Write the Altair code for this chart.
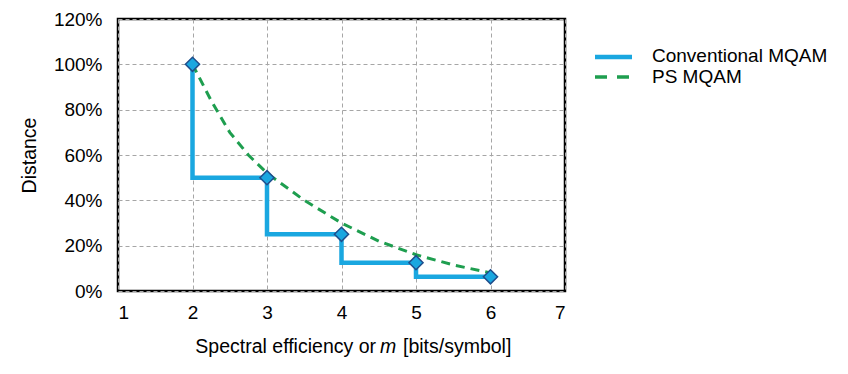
import altair as alt
import pandas as pd

# Conventional MQAM (staircase)
conv_x = [2, 2, 3, 3, 4, 4, 5, 5, 6]
conv_y = [1.00, 0.50, 0.50, 0.25, 0.25, 0.125, 0.125, 0.0625, 0.0625]
# marker points
mark_x = [2, 3, 4, 5, 6]
mark_y = [1.00, 0.50, 0.25, 0.125, 0.0625]
# PS MQAM (dashed curve)
ps_x = [2, 2.25, 2.5, 2.75, 3, 3.5, 4, 4.5, 5, 5.5, 6]
ps_y = [1.00, 0.84, 0.70, 0.60, 0.52, 0.40, 0.30, 0.22, 0.16, 0.115, 0.08]

series = ["Conventional  MQAM", "PS MQAM"]
title_parts = ["Spectral efficiency or", "m", "[bits/symbol]"]

BLUE = "#1aa7e0"
GREEN = "#1e9e4f"
FONT = "Liberation Sans"
FS = 19
TFS = 19.5

df_conv = pd.DataFrame({"m": conv_x, "d": conv_y, "o": range(len(conv_x))})
df_ps = pd.DataFrame({"m": ps_x, "d": ps_y, "o": range(len(ps_x))})
dm = pd.DataFrame({"m": mark_x, "d": mark_y})

xs = alt.Scale(domain=[1, 7], nice=False)
ys = alt.Scale(domain=[0, 1.2], nice=False)

xax = alt.Axis(values=[1, 2, 3, 4, 5, 6, 7], format="d", title=None,
               grid=True, gridDash=[4, 3], gridColor="#a6a6a6", gridWidth=1,
               ticks=False, domain=False, labelFontSize=FS, labelPadding=12,
               labelFont=FONT, labelColor="#000")
yax = alt.Axis(values=[0, 0.2, 0.4, 0.6, 0.8, 1.0, 1.2], format=".0%", title="Distance",
               grid=True, gridDash=[4, 3], gridColor="#a6a6a6", gridWidth=1,
               ticks=False, domain=False, labelFontSize=FS, labelPadding=16,
               titleFontSize=TFS, titleFontWeight="normal", titlePadding=14,
               labelFont=FONT, titleFont=FONT, labelColor="#000", titleColor="#000")

conv_line = alt.Chart(df_conv).mark_line(color=BLUE, strokeWidth=4.5, strokeCap="butt",
                                         strokeJoin="miter").encode(
    x=alt.X("m:Q", scale=xs, axis=xax),
    y=alt.Y("d:Q", scale=ys, axis=yax),
    order="o:Q",
)
ps_line = alt.Chart(df_ps).mark_line(color=GREEN, strokeWidth=3, strokeDash=[9, 6],
                                     strokeCap="butt").encode(
    x=alt.X("m:Q", scale=xs),
    y=alt.Y("d:Q", scale=ys),
    order="o:Q",
)

pts = alt.Chart(dm).mark_point(shape="diamond", filled=True, size=200, fill=BLUE,
                               stroke="#1f4e8c", strokeWidth=1.5, opacity=1).encode(
    x=alt.X("m:Q", scale=xs),
    y=alt.Y("d:Q", scale=ys),
)

# legend (drawn by hand to match the compact row spacing)
ldf = pd.DataFrame({"s": series})
lg1 = alt.Chart(ldf).transform_filter(alt.datum.s == series[0]).mark_rule(
    color=BLUE, strokeWidth=4.5, strokeCap="butt").encode(
    x=alt.value(477), x2=alt.value(514), y=alt.value(38))
lg2 = alt.Chart(ldf).transform_filter(alt.datum.s == series[1]).mark_rule(
    color=GREEN, strokeWidth=3.5, strokeDash=[12, 10], strokeCap="butt").encode(
    x=alt.value(477), x2=alt.value(514), y=alt.value(58))
lt1 = alt.Chart(ldf).transform_filter(alt.datum.s == series[0]).mark_text(
    align="left", baseline="middle", font=FONT, fontSize=FS, color="#000").encode(
    text="s:N", x=alt.value(534), y=alt.value(37))
lt2 = alt.Chart(ldf).transform_filter(alt.datum.s == series[1]).mark_text(
    align="left", baseline="middle", font=FONT, fontSize=FS, color="#000").encode(
    text="s:N", x=alt.value(534), y=alt.value(58))

# x-axis title with italic "m"
tdf = pd.DataFrame({"t": title_parts})
t1 = alt.Chart(tdf).transform_filter(alt.datum.t == title_parts[0]).mark_text(
    align="right", baseline="alphabetic", font=FONT, fontSize=TFS, color="#000").encode(
    text="t:N", x=alt.value(258), y=alt.value(334))
t2 = alt.Chart(tdf).transform_filter(alt.datum.t == title_parts[1]).mark_text(
    align="center", baseline="alphabetic", font=FONT, fontSize=TFS, fontStyle="italic", color="#000").encode(
    text="t:N", x=alt.value(270), y=alt.value(334))
t3 = alt.Chart(tdf).transform_filter(alt.datum.t == title_parts[2]).mark_text(
    align="left", baseline="alphabetic", font=FONT, fontSize=TFS, color="#000").encode(
    text="t:N", x=alt.value(285), y=alt.value(334))

chart = alt.layer(conv_line, ps_line, pts, lg1, lg2, lt1, lt2, t1, t2, t3).properties(
    width=447, height=272,
    background="white",
    autosize=alt.AutoSizeParams(type="none"),
    padding={"left": 110, "top": 11, "right": 270, "bottom": 70},
).configure_view(stroke="#000", strokeWidth=2.5)

chart.save("out.html", embed_options={"renderer": "svg", "actions": False})
